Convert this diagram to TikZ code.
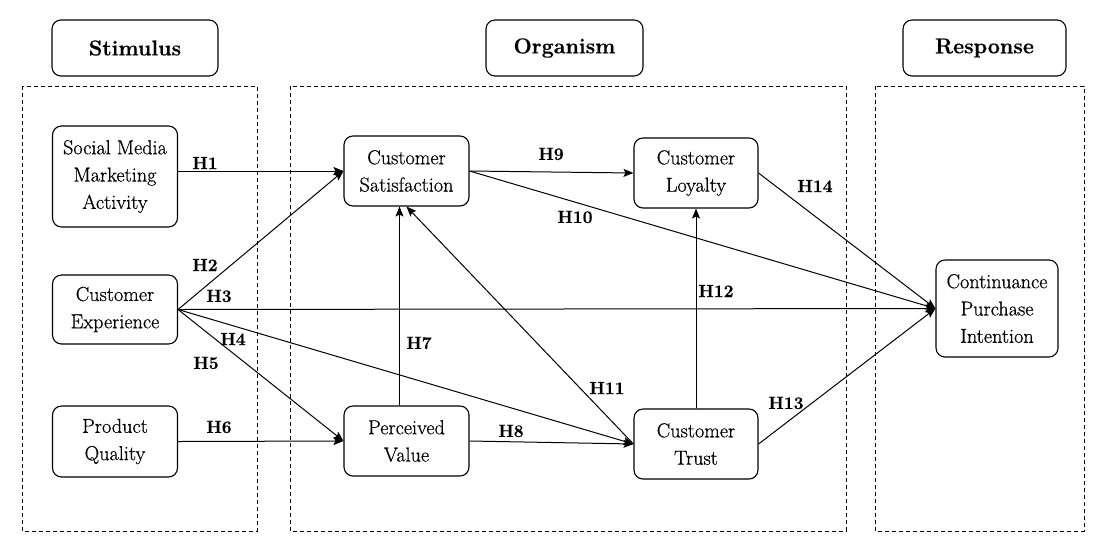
\documentclass[tikz,border=0pt]{standalone}
\usepackage{fontspec}
\newfontfamily\nodefont{Latin Modern Roman}[FakeBold=0.6]
\newfontfamily\labfont{Latin Modern Roman}[BoldFeatures={FakeBold=0.5}]
\usetikzlibrary{arrows.meta}
\begin{document}
\begin{tikzpicture}[x=1pt,y=-1pt,
  box/.style={draw, rounded corners=9pt, line width=1.1pt, align=center,
    font=\nodefont\fontsize{20.2}{27.3}\selectfont, minimum width=125pt, minimum height=70pt, inner sep=0pt},
  hdr/.style={draw, rounded corners=9pt, line width=1.1pt, align=center,
    font=\labfont\fontsize{21.5}{24}\selectfont\bfseries, minimum height=56pt, inner sep=0pt},
  zone/.style={draw, dashed, dash pattern=on 4pt off 3pt, line width=1pt},
  lab/.style={font=\labfont\fontsize{17.5}{19}\selectfont\bfseries, inner sep=0pt},
  arr/.style={-{Stealth[length=10pt,width=8pt,inset=2pt]}, line width=1pt}]
\useasboundingbox (0,0) rectangle (1105,550);
\fill[white] (0,0) rectangle (1105,550);

% headers
\node[hdr, minimum width=166pt] (hs) at (135,48) {Stimulus};
\node[hdr, minimum width=157pt] (ho) at (564.5,48) {Organism};
\node[hdr, minimum width=163pt] (hr) at (984.5,48) {Response};

% zones
\draw[zone] (22,86) rectangle (257,531);
\draw[zone] (290,86) rectangle (846,531);
\draw[zone] (875,86) rectangle (1084,531);

% nodes
\node[box, minimum height=101pt] (smma) at (115,176.5) {Social Media\\Marketing\\Activity};
\node[box, minimum height=69pt] (ce) at (115,309.5) {Customer\\Experience};
\node[box, minimum height=71pt] (pq) at (115,441.5) {Product\\Quality};
\node[box] (cs) at (406.5,171) {Customer\\Satisfaction};
\node[box] (pv) at (406.5,441) {Perceived\\Value};
\node[box, minimum width=124pt] (cl) at (696,173) {Customer\\Loyalty};
\node[box, minimum width=124pt] (ct) at (696,444) {Customer\\Trust};
\node[box, minimum width=122pt, minimum height=97pt] (cpi) at (997,308.5) {Continuance\\Purchase\\Intention};

% arrows
\draw[arr] (smma.east |- cs.west) -- (cs.west);
\draw[arr] (ce.east) -- (cs.west);
\draw[arr] (ce.east) -- (cpi.west);
\draw[arr] (ce.east) -- (ct.west);
\draw[arr] (ce.east) -- (pv.west);
\draw[arr] (pq.east) -- (pv.west);
\draw[arr] ([xshift=-7pt]pv.north) -- ([xshift=-7pt]cs.south);
\draw[arr] (pv.east) -- (ct.west);
\draw[arr] (cs.east) -- (cl.west);
\draw[arr] (cs.east) -- (cpi.west);
\draw[arr] (ct.west) -- (cs.south);
\draw[arr] (ct.north) -- (cl.south);
\draw[arr] (ct.east) -- (cpi.west);
\draw[arr] (cl.east) -- (cpi.west);

% labels
\node[lab] (h1) at (205,163) {H1};
\node[lab] (h2) at (205,265) {H2};
\node[lab] (h3) at (219,296) {H3};
\node[lab] (h4) at (233,339) {H4};
\node[lab] (h5) at (206,363) {H5};
\node[lab] (h6) at (219,427) {H6};
\node[lab] (h7) at (419,343) {H7};
\node[lab] (h8) at (511,431) {H8};
\node[lab] (h9) at (551,154) {H9};
\node[lab] (h10) at (575,217) {H10};
\node[lab] (h11) at (607,388) {H11};
\node[lab] (h12) at (716,291) {H12};
\node[lab] (h13) at (786,403) {H13};
\node[lab] (h14) at (815,186) {H14};
\end{tikzpicture}
\end{document}
